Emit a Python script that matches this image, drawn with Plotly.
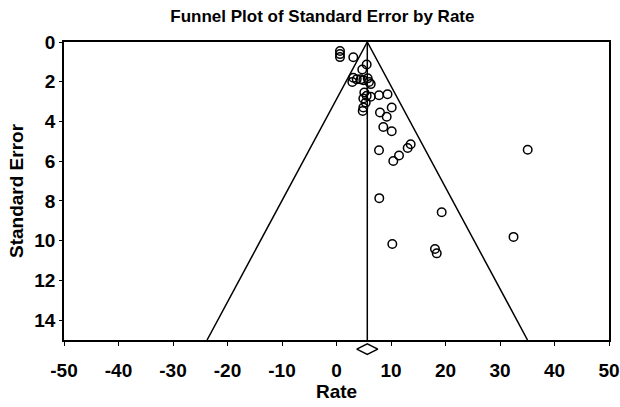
import plotly.graph_objects as go

# Study-level data (rate, standard error)
rate = [0.64, 0.64, 0.64, 3.08, 5.54, 4.73, 3.08, 3.71, 2.90, 4.44,
        4.92, 5.72, 5.96, 6.28, 5.10, 5.54, 4.92, 6.28, 7.80, 9.36,
        5.36, 4.92, 4.81, 10.13, 7.98, 9.21, 8.59, 10.13, 7.80, 10.42,
        11.47, 13.06, 13.61, 35.08, 7.85, 19.30, 32.48, 10.24, 18.07, 18.39]
std_err = [0.45, 0.61, 0.76, 0.77, 1.13, 1.38, 1.80, 1.88, 2.01, 1.88,
           1.92, 1.83, 2.01, 2.12, 2.54, 2.71, 2.84, 2.76, 2.68, 2.63,
           3.05, 3.30, 3.47, 3.30, 3.55, 3.76, 4.28, 4.49, 5.45, 5.99,
           5.71, 5.34, 5.15, 5.42, 7.86, 8.57, 9.81, 10.17, 10.42, 10.64]
pooled_rate = 5.65
se_max = 15
z = 1.96
x_ticks = [-50, -40, -30, -20, -10, 0, 10, 20, 30, 40, 50]
y_ticks = [0, 2, 4, 6, 8, 10, 12, 14]

FONT = "Liberation Sans Narrow, Arial Narrow, Liberation Sans, Arial, sans-serif"

fig = go.Figure()

# funnel (95% limits)
fig.add_trace(go.Scatter(
    x=[pooled_rate - z * se_max, pooled_rate, pooled_rate + z * se_max],
    y=[se_max, 0, se_max], mode="lines",
    line=dict(color="black", width=1.5), hoverinfo="skip", showlegend=False))
# pooled estimate vertical line
fig.add_trace(go.Scatter(
    x=[pooled_rate, pooled_rate], y=[0, se_max], mode="lines",
    line=dict(color="black", width=1.5), hoverinfo="skip", showlegend=False))
# studies
fig.add_trace(go.Scatter(
    x=rate, y=std_err, mode="markers",
    marker=dict(symbol="circle-open", size=8.5, color="black", line=dict(width=1.5)),
    showlegend=False, cliponaxis=False))
# pooled diamond in a strip under the axis
fig.add_trace(go.Scatter(
    x=[pooled_rate], y=[0.5], mode="markers", xaxis="x2", yaxis="y2",
    marker=dict(symbol="diamond-wide-open", size=15, color="black", line=dict(width=1.5)),
    showlegend=False, cliponaxis=False))

fig.update_layout(
    width=620, height=407,
    margin=dict(l=64, r=11, t=42, b=50),
    paper_bgcolor="white", plot_bgcolor="white",
    font=dict(family=FONT, color="black"),
    title=dict(text="<b>Funnel Plot of Standard Error by Rate</b>",
               x=0.52, xanchor="center", y=0.96, yanchor="middle",
               font=dict(size=17, family=FONT)),
    xaxis=dict(range=[-50, 50], tickvals=x_ticks, showticklabels=False,
               anchor="y", automargin=False,
               showgrid=False, zeroline=False,
               showline=True, linecolor="black", linewidth=1.5, mirror=True,
               ticks="outside", ticklen=4, tickcolor="black"),
    yaxis=dict(range=[se_max, 0], domain=[0.054, 1], tickvals=y_ticks,
               ticktext=[f"<b>{v}</b>" for v in y_ticks],
               tickfont=dict(size=19, family=FONT), automargin=False,
               showgrid=False, zeroline=False,
               showline=True, linecolor="black", linewidth=1.5, mirror=True,
               ticks="outside", ticklen=3, tickcolor="black",
               title=dict(text="<b>Standard Error</b>", font=dict(size=19, family=FONT), standoff=6)),
    xaxis2=dict(range=[-50, 50], tickvals=x_ticks, anchor="y2", automargin=False,
                ticktext=[f"<b>{v}</b>" for v in x_ticks],
                tickfont=dict(size=19, family=FONT),
                showgrid=False, zeroline=False, showline=False, ticks="",
                title=dict(text="<b>Rate</b>", font=dict(size=19, family=FONT), standoff=2)),
    yaxis2=dict(range=[0, 1], domain=[0, 0.05], anchor="x2", visible=False),
)

fig.write_html("out.html")
